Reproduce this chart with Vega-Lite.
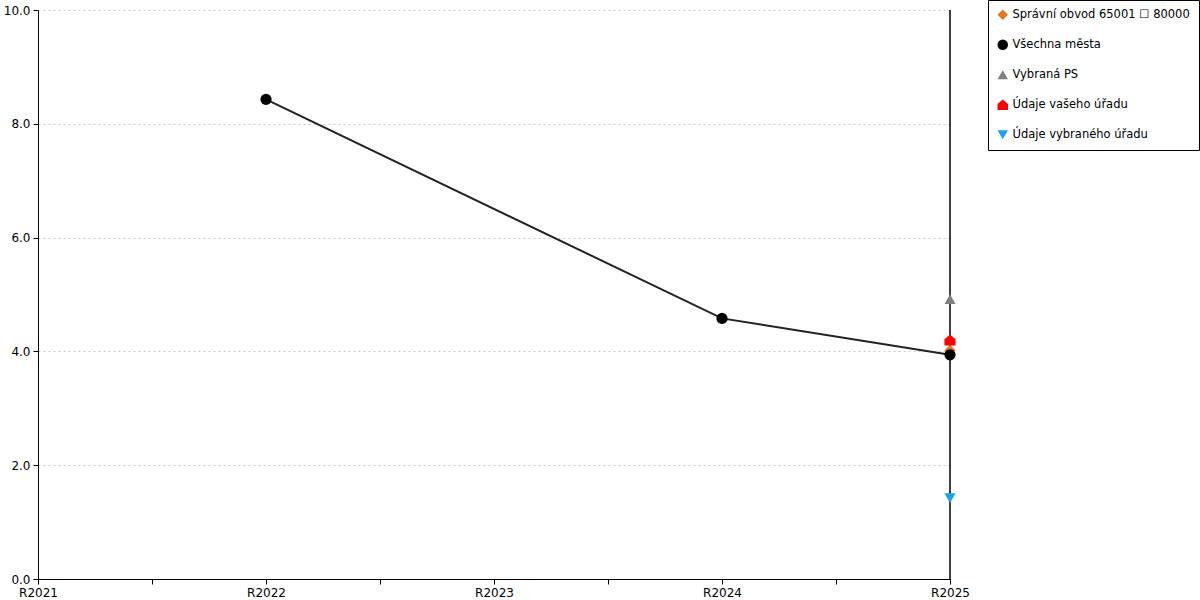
{
  "$schema": "https://vega.github.io/schema/vega-lite/v6.json",
  "width": 912,
  "height": 569,
  "autosize": {"type": "none"},
  "padding": {"left": 38, "top": 10, "right": 250, "bottom": 21},
  "background": "white",
  "config": {
    "font": "DejaVu Sans",
    "view": {"stroke": null},
    "axis": {
      "labelFont": "DejaVu Sans",
      "labelFontSize": 12,
      "labelColor": "black",
      "domainColor": "black",
      "tickColor": "black",
      "tickSize": 5,
      "title": null
    },
    "legend": {
      "labelFont": "DejaVu Sans",
      "labelFontSize": 11.5,
      "labelColor": "black"
    }
  },
  "datasets": {
    "hodnoty": [
      {"serie": "Správní obvod 65001 ☐ 80000", "rok": 2025, "hodnota": 4.02},
      {"serie": "Všechna města", "rok": 2022, "hodnota": 8.43},
      {"serie": "Všechna města", "rok": 2024, "hodnota": 4.58},
      {"serie": "Všechna města", "rok": 2025, "hodnota": 3.94},
      {"serie": "Vybraná PS", "rok": 2025, "hodnota": 4.92},
      {"serie": "Údaje vašeho úřadu", "rok": 2025, "hodnota": 4.2},
      {"serie": "Údaje vybraného úřadu", "rok": 2025, "hodnota": 1.42}
    ],
    "svisla": [{"rok": 2025}]
  },
  "encoding": {
    "x": {
      "field": "rok",
      "type": "quantitative",
      "scale": {"domain": [2021, 2025], "nice": false, "zero": false},
      "axis": {
        "values": [2021, 2021.5, 2022, 2022.5, 2023, 2023.5, 2024, 2024.5, 2025],
        "labelExpr": "datum.value % 1 == 0 ? 'R' + datum.value : ''",
        "labelOverlap": false,
        "labelFlush": false,
        "labelPadding": 3,
        "grid": false
      }
    }
  },
  "layer": [
    {
      "data": {"name": "hodnoty"},
      "transform": [{"filter": "datum.serie == 'Všechna města'"}],
      "mark": {"type": "line", "color": "#222222", "strokeWidth": 2},
      "encoding": {
        "y": {
          "field": "hodnota",
          "type": "quantitative",
          "scale": {"domain": [0, 10], "nice": false},
          "axis": {
            "values": [0, 2, 4, 6, 8, 10],
            "format": ".1f",
            "grid": true,
            "gridColor": "#c8c8c8",
            "gridDash": [2, 3],
            "gridWidth": 1,
            "labelPadding": 3
          }
        }
      }
    },
    {
      "data": {"name": "svisla"},
      "mark": {"type": "rule", "color": "black", "strokeWidth": 1.5},
      "encoding": {}
    },
    {
      "data": {"name": "hodnoty"},
      "mark": {"type": "point", "filled": true, "opacity": 1, "size": 125},
      "encoding": {
        "y": {"field": "hodnota", "type": "quantitative"},
        "color": {
          "field": "serie",
          "type": "nominal",
          "scale": {
            "domain": ["Správní obvod 65001 ☐ 80000", "Všechna města", "Vybraná PS", "Údaje vašeho úřadu", "Údaje vybraného úřadu"],
            "range": ["#e8761e", "#000000", "#808080", "#ff0000", "#1aa3e8"]
          },
          "legend": {
            "title": null,
            "orient": "none",
            "legendX": 950,
            "legendY": -10,
            "strokeColor": "black",
            "fillColor": "white",
            "padding": 9,
            "rowPadding": 17,
            "labelOffset": 4,
            "labelLimit": 300,
            "symbolSize": 110,
            "symbolStrokeWidth": 0
          }
        },
        "shape": {
          "field": "serie",
          "type": "nominal",
          "scale": {
            "domain": ["Správní obvod 65001 ☐ 80000", "Všechna města", "Vybraná PS", "Údaje vašeho úřadu", "Údaje vybraného úřadu"],
            "range": ["diamond", "circle", "triangle-up", "M-1,1L-1,-0.15L0,-1L1,-0.15L1,1Z", "triangle-down"]
          },
          "legend": null
        }
      }
    }
  ]
}
